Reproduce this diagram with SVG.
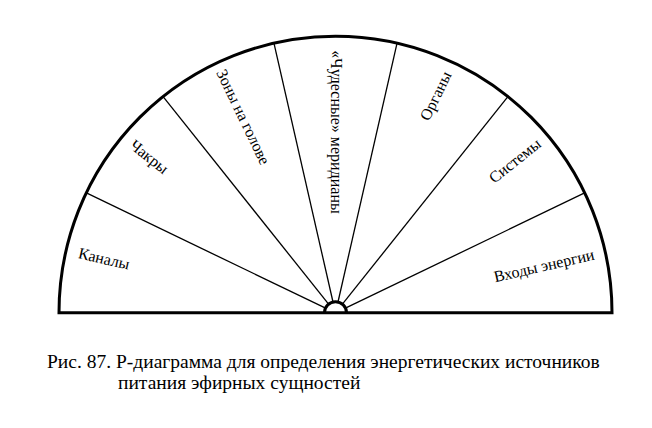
<svg xmlns="http://www.w3.org/2000/svg" width="652" height="428" viewBox="0 0 652 428">
<style>
.outline{fill:none;stroke:#000;stroke-width:3}
.div{stroke:#000;stroke-width:1.3;fill:none}
.lbl{font-family:'Liberation Serif','Times New Roman',serif;font-size:16px;fill:#000;text-anchor:middle}
.cap{font-family:'Liberation Serif','Times New Roman',serif;font-size:19.5px;fill:#000}
</style>
<rect width="652" height="428" fill="#fff"/>
<g id="connectors">
<line class="div" x1="325.6" y1="308.2" x2="86.4" y2="192.9"/>
<line class="div" x1="328.6" y1="304.1" x2="163.1" y2="96.7"/>
<line class="div" x1="333.0" y1="302.0" x2="274.0" y2="43.3"/>
<line class="div" x1="338.0" y1="302.0" x2="397.0" y2="43.3"/>
<line class="div" x1="342.4" y1="304.1" x2="507.9" y2="96.7"/>
<line class="div" x1="345.4" y1="308.2" x2="584.6" y2="192.9"/>
</g>
<g id="frame">
<path class="outline" d="M59,312.7 A276.5,276.5 0 0 1 612,312.7 Z"/>
<path class="outline" d="M324.5,312.7 A11,11 0 0 1 346.5,312.7"/>
</g>
<g id="n-kanaly"><text class="lbl" transform="translate(104,259) rotate(12.86)" y="5">Каналы</text></g>
<g id="n-chakry"><text class="lbl" transform="translate(149,157) rotate(38.57)" y="5">Чакры</text></g>
<g id="n-zony"><text class="lbl" transform="translate(243,117) rotate(64.29)" y="5">Зоны на голове</text></g>
<g id="n-meridiany"><text class="lbl" transform="translate(336,132) rotate(90)" y="5">«Чудесные» меридианы</text></g>
<g id="n-organy"><text class="lbl" transform="translate(436,96) rotate(-64.29)" y="5">Органы</text></g>
<g id="n-sistemy"><text class="lbl" transform="translate(515,161) rotate(-38.57)" y="5">Системы</text></g>
<g id="n-vkhody"><text class="lbl" transform="translate(544,266) rotate(-12.86)" y="5">Входы энергии</text></g>
<g id="caption">
<text class="cap" x="47" y="368">Рис. 87. Р-диаграмма для определения энергетических источников</text>
<text class="cap" x="118" y="389">питания эфирных сущностей</text>
</g>
</svg>
